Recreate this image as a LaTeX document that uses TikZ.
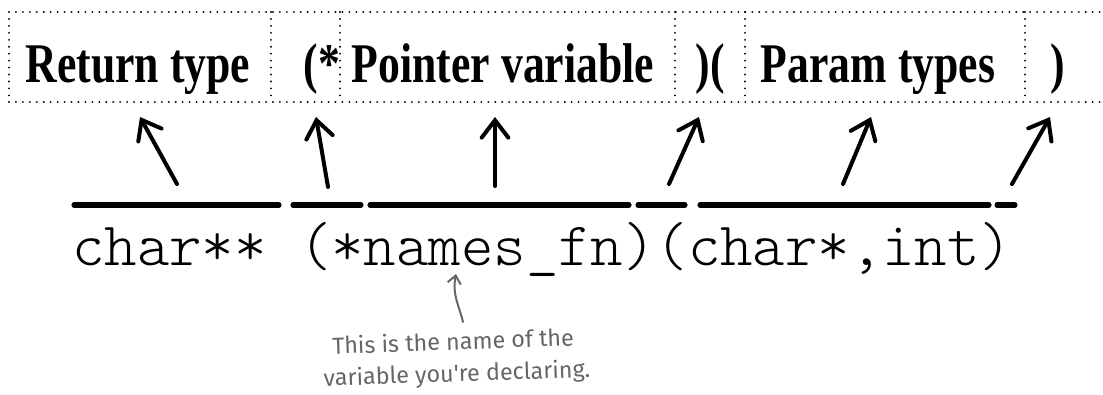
\documentclass[tikz,border=0pt]{standalone}
\usepackage{fontspec}
\newfontfamily\headfont[FakeStretch=0.78]{Liberation Serif}
\newfontfamily\codefont{Latin Modern Mono Light}
\newfontfamily\notefont{Fira Sans}
\usetikzlibrary{arrows.meta}

\begin{document}
\begin{tikzpicture}[
    x=0.75pt, y=-0.75pt,
    part/.style={font=\headfont\bfseries\fontsize{42}{42}\selectfont, anchor=base, inner sep=0pt},
    cell/.style={line width=1.6pt, dash pattern=on 0.01pt off 5.2pt, line cap=round},
    bar/.style={line width=3.8pt, line cap=round},
    arrow/.style={-{Straight Barb[length=13pt, width=20pt, line cap=round]}, line width=3pt, line cap=round},
    note/.style={font=\notefont\fontsize{17.5}{21}\selectfont, text=black!60, inner sep=0pt, rotate=2}
]
\useasboundingbox (0,0) rectangle (1103,394);

% the declaration split into its parts
\draw[cell] (9,12) -- (1110,12) (9,102) -- (1110,102) (9,12) -- (9,102);
\foreach \x in {271,340,675,745,1025}
    \draw[cell] (\x,12) -- (\x,102);

\node[part] (ret) at (138,82) {Return type};
\node[part] (star) at (322,82) {(*};
\node[part] (ptr) at (503,82) {Pointer variable};
\node[part] (mid) at (710,82) {)(};
\node[part] (par) at (878,82) {Param types};
\node[part] (close) at (1058,82) {)};

% the code line
\node[font=\codefont\fontsize{46.3}{46.3}\selectfont, anchor=base west, inner sep=0pt] (code) at (72,265) {char** (*names\_fn)(char*,int)};

\draw[bar] (74,205) -- (279,205);
\draw[bar] (293,205) -- (361,205);
\draw[bar] (370,205) -- (629,205);
\draw[bar] (638,205) -- (685,205);
\draw[bar] (700,205) -- (989,205);
\draw[bar] (997,205) -- (1015,205);

% arrows up to the parts
\coordinate (t1) at (177,184);
\coordinate (t2) at (328,187);
\coordinate (t3) at (495,186);
\coordinate (t4) at (669,184);
\coordinate (t5) at (843,184);
\coordinate (t6) at (1012,184);
\draw[arrow] (t1) -- (140,117) coordinate (h1);
\draw[arrow] (t2) -- (316,117) coordinate (h2);
\draw[arrow] (t3) -- (495,117) coordinate (h3);
\draw[arrow] (t4) -- (699,117) coordinate (h4);
\draw[arrow] (t5) -- (871,117) coordinate (h5);
\draw[arrow] (t6) -- (1050,117) coordinate (h6);

% note
\node[note] (name1) at (453,341) {This is the name of the};
\node[note] (name2) at (457,375) {variable you're declaring.};
\coordinate (nametip) at (456,274);
\draw[black!60, line width=1.5pt, line cap=round, -{Straight Barb[length=6pt, width=10pt]}]
    (463,322) .. controls (459,305) and (452,295) .. (nametip);
\end{tikzpicture}
\end{document}
